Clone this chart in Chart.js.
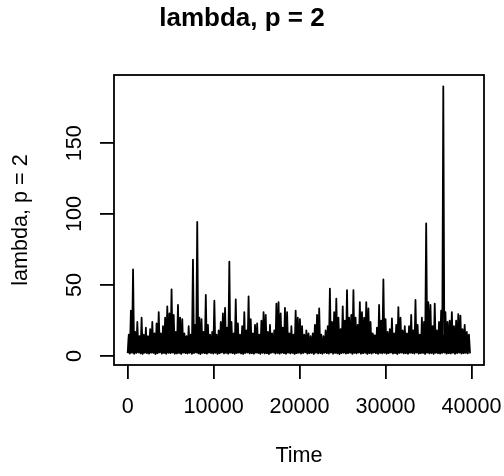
<!DOCTYPE html>
<html>
<head>
<meta charset="utf-8">
<title>lambda, p = 2</title>
<script src="https://cdn.jsdelivr.net/npm/chart.js@4/dist/chart.umd.min.js"></script>
<style>
  html, body { margin: 0; padding: 0; background: #fff; }
  #lambdaChart { display: block; }
</style>
</head>
<body>
<canvas id="lambdaChart" width="504" height="476"></canvas>
<script>
// the series in bins of ~249 time steps:
// binLow = bottom edge of the black band, binHigh = top of the band / spike in that bin
const binWidth = 249;

const binLow = [
  2.1,1.8,2.4,1.6,2.2,2.5,1.9,1.5,2.3,2.0,1.7,2.4,2.2,1.4,2.0,2.6,1.8,2.1,1.6,2.3,
  2.0,2.5,1.7,1.9,2.2,1.5,2.4,2.0,1.8,2.3,1.6,2.1,2.5,1.9,1.4,2.2,2.0,1.7,2.4,2.1,
  1.8,2.3,1.5,2.0,2.6,1.9,2.2,1.7,2.4,2.0,1.6,2.1,2.3,1.8,1.5,2.2,2.5,1.9,2.0,1.7,
  2.4,2.1,1.6,2.3,1.9,2.0,1.4,2.2,2.5,1.8,2.1,1.7,2.3,2.0,1.6,2.4,1.9,2.2,1.5,2.0,
  2.3,1.8,2.1,2.6,1.7,2.0,2.2,1.5,2.4,1.9,2.1,1.6,2.3,2.0,1.8,2.5,1.7,2.2,1.9,1.4,
  2.1,2.3,1.8,2.0,2.4,1.6,2.2,1.9,2.5,1.7,2.0,2.3,1.5,2.1,1.8,2.4,2.0,1.6,2.2,1.9,
  2.3,1.7,2.0,2.5,1.8,2.1,1.4,2.2,2.4,1.9,2.0,1.6,2.3,2.1,1.8,2.5,1.7,2.0,2.2,1.5,
  2.4,1.9,2.1,1.6,2.3,2.0,1.8,2.2,2.5,1.7,2.0,1.9,2.3,1.6,2.1,2.4,1.8,2.0,2.2,1.9
];

const binHigh = [
  15,32,61,17,24,14,27,15,20,14,19,24,16,23,31,16,21,27,35,30,
  47,29,17,36,27,26,16,14,21,15,68,22,94.5,27,26,17,43,22,15,17,
  39,15,18,24,30,34,20,66.5,24,16,40,23,15,21,31,18,42,26,16,22,
  23,15,25,31,29,17,22,16,18,37,38,30,20,34,31,16,21,15,32,27,
  26,21,15,18,16,14,16,22,29,33.5,15,14,18,21,47.5,24,31,40.5,27,19,
  35,25,46.5,27,29,46.5,27,22,38,31,27,38,33.5,24,16,14,20,36,25,54,
  26,17,19,26.5,16,22,34.5,27,18,21,16,21,29,18,39.5,22,15,27,24,93.5,
  38,36,21,37,18,24,32,190,31,24,25,31,21,25,29.5,28.5,19,22,17,15
];

// top of the solid core of the band, read every 4 bins (996 steps)
const bandStep = 996;
const bandTop = [
  13,14,13,14,15,16,15,14,15,14,13,14,13,14,13,12,13,14,15,14,
  14,12,12,13,15,16,16,15,16,15,14,13,13,14,14,15,15,15,15,14,15
];

const xTicks = [0, 10000, 20000, 30000, 40000];
const yTicks = [0, 50, 100, 150];
const xRange = [-1594, 41465];
const yRange = [-6.3, 198];

const fontFamily = "'Liberation Sans', Arial, sans-serif";

function buildPoints() {
  const points = [];
  binLow.forEach((low, i) => {
    points.push({ x: i * binWidth, y: low });
    points.push({ x: i * binWidth + binWidth / 2, y: binHigh[i] });
  });
  points.push({ x: binLow.length * binWidth, y: binLow[binLow.length - 1] });
  return points;
}

const lowPoints = binLow.map((low, i) => ({ x: i * binWidth, y: low }));
const corePoints = bandTop.map((top, k) => ({ x: k * bandStep, y: top }));

// R style box round the plot region
const plotBox = {
  id: "plotBox",
  afterDraw(chart) {
    const { ctx, chartArea: a } = chart;
    ctx.save();
    ctx.strokeStyle = "#000";
    ctx.lineWidth = 1.8;
    ctx.strokeRect(a.left, a.top, a.right - a.left, a.bottom - a.top);
    ctx.restore();
  }
};

const ctx = document.getElementById("lambdaChart").getContext("2d");
new Chart(ctx, {
  type: "line",
  data: {
    datasets: [
      {
        label: "lambda, p = 2",
        data: buildPoints(),
        borderColor: "#000",
        borderWidth: 1.8,
        borderJoinStyle: "round",
        pointRadius: 0,
        tension: 0,
        fill: false
      },
      {
        label: "core",
        data: corePoints,
        borderColor: "rgba(0,0,0,0)",
        borderWidth: 0,
        backgroundColor: "#000",
        pointRadius: 0,
        tension: 0,
        fill: "+1"
      },
      {
        label: "low",
        data: lowPoints,
        borderColor: "rgba(0,0,0,0)",
        borderWidth: 0,
        pointRadius: 0,
        tension: 0,
        fill: false
      }
    ]
  },
  options: {
    responsive: false,
    animation: false,
    devicePixelRatio: 1,
    layout: { padding: { left: 0, right: 20, top: 0, bottom: 0 } },
    plugins: {
      legend: { display: false },
      tooltip: { enabled: false },
      title: {
        display: true,
        text: "lambda, p = 2",
        color: "#000",
        font: { family: fontFamily, size: 26, weight: "bold", lineHeight: 1.2 },
        padding: { top: 3.7, bottom: 40.1 }
      }
    },
    scales: {
      x: {
        type: "linear",
        min: xRange[0],
        max: xRange[1],
        afterBuildTicks: s => { s.ticks = xTicks.map(v => ({ value: v })); },
        afterFit: s => { s.height = 111; s.paddingLeft = 0; s.paddingRight = 0; },
        border: { display: false },
        grid: { drawOnChartArea: false, drawTicks: true, tickLength: 14, color: "#000", lineWidth: 1.8 },
        ticks: {
          autoSkip: false, minRotation: 0, maxRotation: 0, padding: 14.7, color: "#000",
          font: { family: fontFamily, size: 21.6 },
          callback: v => String(v)
        },
        title: {
          display: true, text: "Time", color: "#000",
          font: { family: fontFamily, size: 21.6 },
          padding: { top: 0, bottom: 7 }
        }
      },
      y: {
        type: "linear",
        min: yRange[0],
        max: yRange[1],
        afterBuildTicks: s => { s.ticks = yTicks.map(v => ({ value: v })); },
        afterFit: s => { s.width = 114; s.paddingTop = 0; s.paddingBottom = 0; },
        border: { display: false },
        grid: { drawOnChartArea: false, drawTicks: true, tickLength: 14, color: "#000", lineWidth: 1.8 },
        ticks: {
          autoSkip: false, minRotation: 90, maxRotation: 90, crossAlign: "center", padding: 7, color: "#000",
          font: { family: fontFamily, size: 21.6 },
          callback: v => String(v)
        },
        title: {
          display: true, text: "lambda, p = 2", color: "#000",
          font: { family: fontFamily, size: 21.6 },
          padding: { top: 8, bottom: 0 }
        }
      }
    }
  },
  plugins: [plotBox]
});
</script>
</body>
</html>
